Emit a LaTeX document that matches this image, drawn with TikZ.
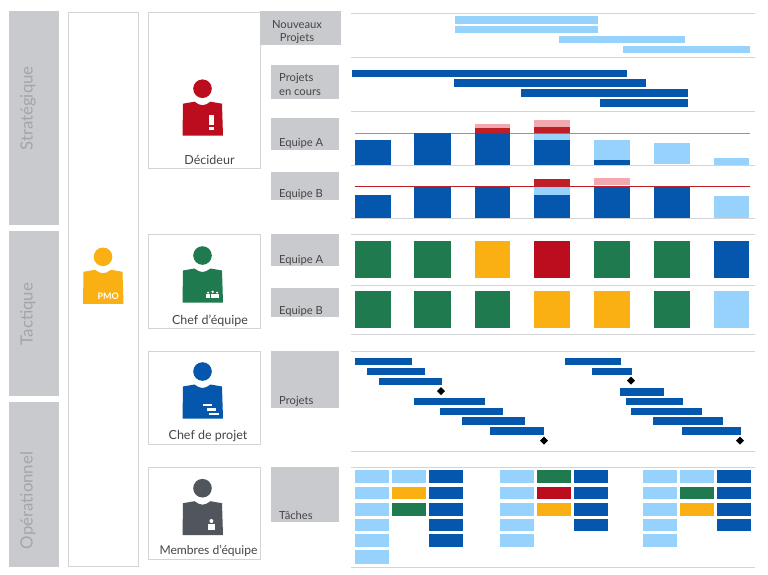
\documentclass[tikz,border=0pt]{standalone}
\usepackage{fontspec}
\setmainfont{Lato}
\definecolor{band}{HTML}{C9CACE}
\definecolor{rulec}{HTML}{D3D4D7}
\definecolor{bandtxt}{HTML}{A3A5A9}
\definecolor{txt}{HTML}{454545}
\definecolor{D}{HTML}{0457AD}
\definecolor{L}{HTML}{96D2FC}
\definecolor{R}{HTML}{BC0D1F}
\definecolor{RB}{HTML}{BE1E26}
\definecolor{P}{HTML}{F2A8AE}
\definecolor{G}{HTML}{1F7A4F}
\definecolor{Y}{HTML}{FAB012}
\definecolor{S}{HTML}{50565C}
\tikzset{
  panel/.style={draw=rulec,line width=1pt,fill=white},
  bandlabel/.style={rotate=90,text=bandtxt,font=\fontsize{16.8}{17}\selectfont,inner sep=0pt},
  rowlabel/.style={text=txt,font=\fontsize{11.2}{13}\selectfont,inner sep=0pt,anchor=west},
  rolelabel/.style={text=txt,font=\fontsize{12.5}{14}\selectfont,inner sep=0pt},
  rowrule/.style={draw=rulec,line width=1pt},
  capline/.style={draw=RB,line width=1pt}
}
\newcommand{\bx}[5]{\fill[#5] (#1,#2) rectangle (#3,#4);}
\newcommand{\roleicon}[3]{%
  \begin{scope}[shift={(#1,#2)}]
    \fill[#3] (0,0) circle (9.3);
    \fill[#3] (-20,47) -- (-19.5,15) -- (-8,13) .. controls (-5,15) and (-3,16.5) .. (0,16.5)
      .. controls (3,16.5) and (5,15) .. (8,13) -- (19.5,15) -- (20.5,47) -- cycle;
  \end{scope}}
\newcommand{\milestone}[2]{\fill[black] (#1-4,#2) -- (#1,#2-4) -- (#1+4,#2) -- (#1,#2+4) -- cycle;}
\begin{document}
\begin{tikzpicture}[x=1pt,y=-1pt]
\useasboundingbox (0,0) rectangle (768,574);
\fill[white] (0,0) rectangle (768,574);
% bands
\foreach \a/\b in {11/225,231/396,402/566.5} {\fill[band] (8.5,\a) rectangle (58.5,\b);}
\node[bandlabel] (strat) at (28,108.5) {Stratégique};
\node[bandlabel] (tact) at (28,314) {Tactique};
\node[bandlabel] (oper) at (28,500.5) {Opérationnel};
% panels
\draw[panel] (68.5,12.5) rectangle (138.5,566.5);
\foreach \a/\b in {12.5/168.5,234.5/328.5,351/444,467/559} {\draw[panel] (148.5,\a) rectangle (260,\b);}
% grey row labels
\bx{260}{11}{341}{44.5}{band}
\foreach \a/\b in {65/99,118/150,172/200,234/266,288/317,351/407.5,467/522} {\fill[band] (271,\a) rectangle (338.5,\b);}
\node[rowlabel,anchor=center] (nv1) at (297,24.8) {Nouveaux};
\node[rowlabel,anchor=center] (nv2) at (297,38.5) {Projets};
\node[rowlabel] (pc1) at (279,78.8) {Projets};
\node[rowlabel] (pc2) at (279,92.8) {en cours};
\node[rowlabel] (ea1) at (279,143.5) {Equipe A};
\node[rowlabel] (eb1) at (279,194.5) {Equipe B};
\node[rowlabel] (ea2) at (279,260) {Equipe A};
\node[rowlabel] (eb2) at (279,311) {Equipe B};
\node[rowlabel] (prj) at (279,401) {Projets};
\node[rowlabel] (tch) at (279,515) {Tâches};
% roles
\node[rolelabel] (dec) at (209.5,159.8) {Décideur};
\node[rolelabel] (che) at (210,320.3) {Chef d'équipe};
\node[rolelabel] (chp) at (208,435.8) {Chef de projet};
\node[rolelabel,font=\fontsize{12.1}{14}\selectfont] (mem) at (208.5,550.8) {Membres d'équipe};
% figures
\roleicon{202.5}{88.7}{R}
\bx{209.4}{115}{214.3}{125}{white}
\bx{209.4}{126.7}{214.3}{129.5}{white}
\roleicon{202.5}{255.5}{G}
\foreach \u in {208.2,217.2} {
  \fill[white] (\u,292.6) circle (1.1);
  \fill[white] (\u-1.8,297.6) rectangle (\u+1.8,294.2);
}
\fill[white] (212.7,291.8) circle (1.3);
\fill[white] (210.6,297.6) rectangle (214.8,293.6);
\roleicon{202.5}{371.5}{D}
\bx{203.3}{404}{212.3}{406.3}{white}
\bx{206.7}{408.2}{215.7}{410.5}{white}
\bx{209}{412.6}{218.7}{415}{white}
\roleicon{202.5}{488.2}{S}
\fill[white] (211.4,521) circle (2);
\bx{208}{523.7}{215}{530}{white}
\roleicon{103}{256.8}{Y}
\node[text=white,font=\fontsize{9}{10}\selectfont\bfseries,inner sep=0pt] (pmo) at (108.3,296.3) {PMO};
% rules
\foreach \y in {13,57,111,165,218.5,234.5,285,334.5,351,451,467.5,567} {\draw[rowrule] (351,\y) -- (755,\y);}
% new projects
\foreach \a/\b/\c/\d in {455/16/597.5/23.7,455/25.5/597.5/33,559/35.5/685/43,623/46/750/53} {\bx{\a}{\b}{\c}{\d}{L}}
% running projects
\foreach \a/\b/\c/\d in {351.5/69.5/626.5/77,454/79/646/87,521/89/687.5/97,600/99/687.5/107} {\bx{\a}{\b}{\c}{\d}{D}}
% team A load
\foreach \a/\b/\c/\d/\e in {
  355/140/390.5/165/D, 414/133/450.5/165/D,
  474.5/133/510/165/D, 474.5/128/510/133/RB, 474.5/124/510/128/P,
  534/140/570/165/D, 534/133/570/140/L, 534/126.7/570/133/RB, 534/120/570/126.7/P,
  594/160/629.5/165/D, 594/139.5/629.5/160/L,
  653.5/142.5/690/164/L, 714/158/749/165/L} {\bx{\a}{\b}{\c}{\d}{\e}}
\draw[capline,opacity=.6] (355,133) -- (750,133);
% team B load
\foreach \a/\b/\c/\d/\e in {
  355/194.5/390.5/218/D, 414/186.5/450.5/218/D, 474.5/186.5/510/218/D,
  534/194.5/570/218/D, 534/187/570/194.5/L, 534/178.5/570/186.5/RB,
  594/186.5/629.5/218/D, 594/177.5/629.5/185/P,
  653.5/186.5/690/218/D, 714/195.5/749/218/L} {\bx{\a}{\b}{\c}{\d}{\e}}
\draw[capline] (355,186.5) -- (750,186.5);
% squares
\foreach \a/\c/\e/\f in {355/390.5/G/G,414/450.5/G/G,474.5/510/Y/G,534/570/R/Y,594/629.5/G/Y,653.5/690/G/G,714/749/D/L} {
  \bx{\a}{241}{\c}{278.3}{\e}
  \bx{\a}{291}{\c}{328.3}{\f}
}
% gantt
\foreach \a/\b/\c/\d in {
  355/357.5/411.5/365, 366.5/367.5/425/375, 379/377.5/442/385,
  414/397.5/484.5/405, 440/407.5/503/415, 462/417/524.5/425, 490/427/544/435,
  565/357.5/621/365, 591.5/367.5/632/375,
  619.5/388.2/663.5/395.7, 625.5/397.5/683/405, 630.5/407.5/702/415, 652.5/417/723/425, 681.5/427/741/435} {\bx{\a}{\b}{\c}{\d}{D}}
\milestone{441}{391.2}
\milestone{544}{440.7}
\milestone{631}{380.5}
\milestone{740}{440.7}
% tasks
\foreach \a/\c/\e/\t/\b in {
  355/388.5/L/470/483.3, 355/388.5/L/486.7/499.3, 355/388.5/L/502.7/515.7, 355/388.5/L/518.7/531.3, 355/388.5/L/534.3/547, 355/388.5/L/550/563.5,
  392/426/L/470/483.3, 392/426/Y/486.7/499.3, 392/426/G/502.7/515.7,
  429/463/D/470/483.3, 429/463/D/486.7/499.3, 429/463/D/502.7/515.7, 429/463/D/518.7/531.3, 429/463/D/534.3/547,
  500/533.5/L/470/483.3, 500/533.5/L/486.7/499.3, 500/533.5/L/502.7/515.7, 500/533.5/L/518.7/531.3, 500/533.5/L/534.3/547,
  537/570.5/G/470/483.3, 537/570.5/R/486.7/499.3, 537/570.5/Y/502.7/515.7,
  574/608/D/470/483.3, 574/608/D/486.7/499.3, 574/608/D/502.7/515.7, 574/608/D/518.7/531.3,
  642.5/676.5/L/470/483.3, 642.5/676.5/L/486.7/499.3, 642.5/676.5/L/502.7/515.7, 642.5/676.5/L/518.7/531.3, 642.5/676.5/L/534.3/547,
  680/714/L/470/483.3, 680/714/G/486.7/499.3, 680/714/Y/502.7/515.7,
  717/751/D/470/483.3, 717/751/D/486.7/499.3, 717/751/D/502.7/515.7, 717/751/D/518.7/531.3} {\bx{\a}{\t}{\c}{\b}{\e}}
\end{tikzpicture}
\end{document}
